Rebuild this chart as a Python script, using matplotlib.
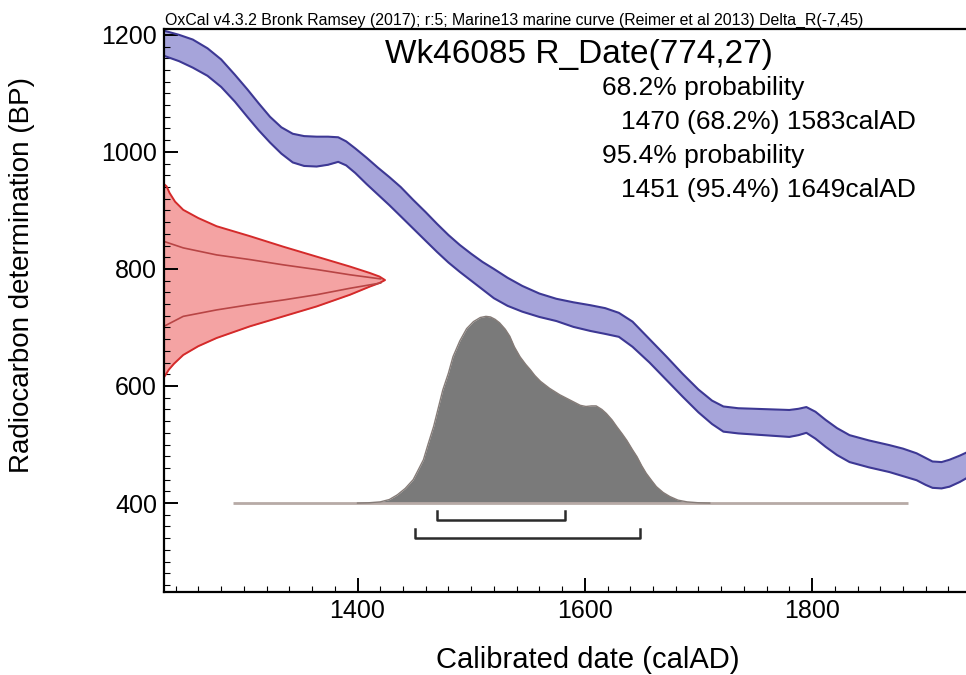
import matplotlib
matplotlib.use("Agg")
import matplotlib.pyplot as plt
from matplotlib.ticker import MultipleLocator

plt.rcParams['font.family'] = ['Liberation Sans', 'DejaVu Sans']

# calibration curve (Marine13, Delta_R -7,45): upper / lower edge of the band, BP
curve_year = [1230, 1243, 1255, 1268, 1280, 1292, 1303, 1313, 1323, 1333, 1343,
              1353, 1364, 1374, 1383, 1390, 1398, 1408, 1418, 1428, 1438, 1449,
              1460, 1470, 1480, 1490, 1500, 1510, 1520, 1532, 1545, 1560, 1575,
              1590, 1605, 1618, 1630, 1642, 1657, 1672, 1686, 1700, 1712, 1722,
              1735, 1750, 1765, 1780, 1788, 1795, 1803, 1812, 1822, 1833, 1850,
              1868, 1880, 1892, 1900, 1906, 1914, 1921, 1930, 1940]
curve_upper = [1207, 1200, 1192, 1177, 1158, 1132, 1107, 1083, 1060, 1042, 1031,
               1027, 1026, 1026, 1025, 1018, 1006, 990, 973, 957, 940, 918,
               897, 877, 858, 841, 826, 812, 800, 785, 771, 758, 749,
               743, 738, 733, 725, 710, 680, 650, 621, 594, 575, 565,
               562, 561, 560, 559, 561, 564, 556, 542, 528, 516, 507,
               499, 493, 485, 477, 471, 470, 474, 481, 490]
curve_lower = [1164, 1155, 1144, 1130, 1111, 1086, 1060, 1037, 1016, 997, 982,
               976, 975, 978, 983, 977, 964, 945, 927, 909, 890, 869,
               848, 829, 811, 795, 780, 765, 750, 737, 727, 718, 711,
               701, 694, 689, 684, 667, 640, 610, 582, 555, 535, 522,
               519, 517, 515, 513, 516, 520, 510, 496, 482, 470, 461,
               453, 446, 439, 431, 426, 425, 428, 436, 447]

# radiocarbon determination R_Date(774,27), relative density
rdate_bp = [945, 941, 930, 915, 901, 887, 873, 856, 838, 821, 804, 793, 787, 781,
            776, 770, 756, 736, 719, 702, 682, 668, 653, 638, 628, 622, 615]
rdate_dens = [0, 0.012, 0.025, 0.05, 0.087, 0.155, 0.238, 0.389, 0.540, 0.691, 0.842,
              0.932, 0.975, 1.0, 0.975, 0.932, 0.842, 0.691, 0.540, 0.389, 0.238,
              0.155, 0.087, 0.045, 0.022, 0.012, 0]
inner_up_bp = [847, 836, 824, 816, 807, 799, 790, 783]
inner_lo_bp = [702, 719, 730, 739, 747, 756, 767, 776]
inner_dens = [0, 0.087, 0.238, 0.389, 0.540, 0.691, 0.842, 0.98]

# calibrated date, posterior height (BP units above baseline 400)
cal_year = [1400, 1410, 1420, 1428, 1435, 1442, 1449, 1453, 1458, 1462, 1467,
            1471, 1475, 1480, 1484, 1490, 1496, 1502, 1508, 1513, 1517, 1521,
            1525, 1530, 1534, 1538, 1543, 1548, 1552, 1556, 1561, 1569, 1578,
            1587, 1596, 1601, 1606, 1610, 1615, 1619, 1624, 1628, 1633, 1637,
            1642, 1646, 1650, 1654, 1659, 1663, 1669, 1675, 1682, 1690, 1700, 1710]
cal_prob = [0, 0.5, 2, 6, 14, 25, 40, 55, 74, 100, 131,
            162, 193, 222, 250, 277, 298, 310, 317, 319, 318, 314,
            308, 297, 285, 267, 250, 237, 228, 218, 208, 196, 185,
            176, 167, 165, 166, 166, 160, 153, 142, 131, 118, 107,
            91, 79, 64, 51, 38, 28, 18, 11, 5, 2, 0.5, 0]

range68 = (1470, 1583)
range95 = (1451, 1649)

fig = plt.figure(figsize=(9.66, 6.75), dpi=100)
ax = fig.add_axes([164 / 966, 83 / 675, 806 / 966, 563 / 675])
ax.set_xlim(1229.7, 1939)
ax.set_ylim(248, 1210)

# calibration curve band
ax.fill_between(curve_year, curve_lower, curve_upper, color='#a6a4da', lw=0)
ax.plot(curve_year, curve_upper, color='#3d3894', lw=1.5)
ax.plot(curve_year, curve_lower, color='#3d3894', lw=1.5)

# radiocarbon date on the y axis
x0 = 1229.7
peak_w = 194.5
rx = [x0 + d * peak_w for d in rdate_dens]
ax.fill_betweenx(rdate_bp, x0, rx, color='#f4a3a3', lw=0)
ax.plot(rx, rdate_bp, color='#d42a2a', lw=1.4)
ax.plot([x0 + d * peak_w for d in inner_dens], inner_up_bp, color='#b84545', lw=1.2)
ax.plot([x0 + d * peak_w for d in inner_dens], inner_lo_bp, color='#b84545', lw=1.2)

# posterior
base = 400
ax.plot([1290, 1884], [base, base], color='#b7aaa6', lw=2, solid_capstyle='butt')
ax.fill_between(cal_year, base, [base + p for p in cal_prob], color='#7a7a7a', lw=0)
ax.plot(cal_year, [base + p for p in cal_prob], color='#857b77', lw=1)

# hpd brackets
for (a, b), y in [(range68, 371), (range95, 340)]:
    ax.plot([a, a, b, b], [y + 16, y, y, y + 16], color='#2b2b2b', lw=1.8)

# axes styling
for s in ax.spines.values():
    s.set_linewidth(1.6)
ax.spines['right'].set_visible(False)
ax.xaxis.set_major_locator(MultipleLocator(200))
ax.xaxis.set_minor_locator(MultipleLocator(20))
ax.yaxis.set_major_locator(MultipleLocator(200))
ax.yaxis.set_minor_locator(MultipleLocator(20))
ax.tick_params(which='both', direction='in', top=False, right=False)
ax.tick_params(which='major', length=10, width=1.4, labelsize=18, pad=5)
ax.tick_params(which='minor', length=4, width=0.8)

fig.text(588 / 966, 1 - 660 / 675, 'Calibrated date (calAD)', fontsize=21,
         ha='center', va='center')
fig.text(22 / 966, 1 - 275 / 675, 'Radiocarbon determination (BP)', fontsize=20,
         ha='center', va='center', rotation=90)

fig.text(165 / 966, 1 - 25 / 675,
         'OxCal v4.3.2 Bronk Ramsey (2017); r:5; Marine13 marine curve (Reimer et al 2013) Delta_R(-7,45)',
         fontsize=11.4, va='baseline')
fig.text(385 / 966, 1 - 63 / 675, 'Wk46085 R_Date(774,27)', fontsize=24, va='baseline')
fig.text(602 / 966, 1 - 95 / 675, '68.2% probability', fontsize=19, va='baseline')
fig.text(621 / 966, 1 - 129 / 675, '1470 (68.2%) 1583calAD', fontsize=19, va='baseline')
fig.text(602 / 966, 1 - 163 / 675, '95.4% probability', fontsize=19, va='baseline')
fig.text(621 / 966, 1 - 197 / 675, '1451 (95.4%) 1649calAD', fontsize=19, va='baseline')

fig.savefig('out.png', dpi=100)
